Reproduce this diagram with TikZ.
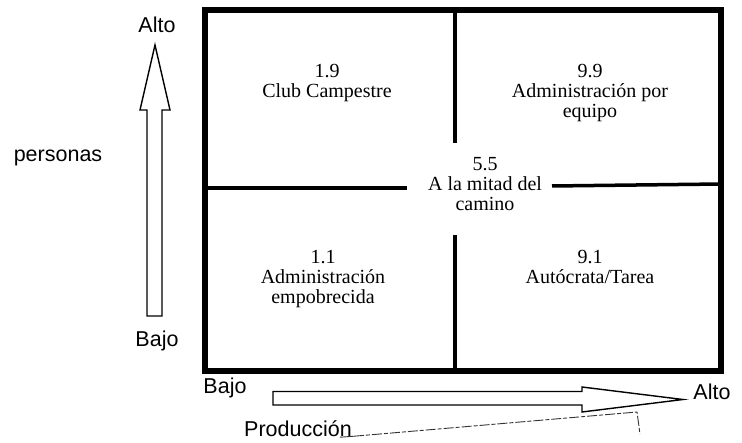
\documentclass[tikz,border=0pt]{standalone}
\usepackage{fontspec}
\setmainfont{Liberation Serif}
\newfontfamily\sansf{Liberation Sans}
\begin{document}
\begin{tikzpicture}[x=1pt,y=-1pt,
  frame/.style={line width=6pt,line join=miter},
  divider/.style={line width=3.5pt},
  quad/.style={align=center,inner sep=0pt,anchor=north,font=\fontsize{20}{20}\selectfont},
  axislabel/.style={inner sep=0pt,font=\sansf\fontsize{21.5}{23}\selectfont},
  hollow/.style={draw,line width=1.4pt,fill=white,line join=miter}]
\useasboundingbox (0,0) rectangle (742,443);
% frame
\draw[frame] (205,10) rectangle (721,371);
% dividers
\draw[divider] (455,10) -- (455,143);
\draw[divider] (455,235) -- (455,371);
\draw[divider] (205,188) -- (407,188);
\draw[divider] (552,186) -- (721,184);
% quadrant texts
\node[quad] (tl) at (327,64) {1.9\\Club Campestre};
\node[quad] (tr) at (590,64) {9.9\\Administración por\\equipo};
\node[quad] (mid) at (485,157) {5.5\\A la mitad del\\camino};
\node[quad] (bl) at (323,250) {1.1\\Administración\\empobrecida};
\node[quad] (br) at (590,250) {9.1\\Autócrata/Tarea};
% vertical arrow
\draw[hollow] (147,316) -- (147,110) -- (140,110) -- (155,45) -- (170,110) -- (162,110) -- (162,316) -- cycle;
% horizontal arrow
\draw[hollow] (273,391.5) -- (582,391.5) -- (582,387) -- (683,399.5) -- (582,412) -- (582,405) -- (273,405) -- cycle;
% axis labels
\node[axislabel] (alto1) at (157,25) {Alto};
\node[axislabel] (bajo1) at (157,341) {Bajo};
\node[axislabel] (pers) at (58,158) {personas};
\node[axislabel] (bajo2) at (225,388) {Bajo};
\node[axislabel] (alto2) at (712,392) {Alto};
\node[axislabel] (prod) at (298,429) {Producción};
% scan mark
\coordinate (m1) at (637,412);
\coordinate (m2) at (640,434);
\draw[line width=0.9pt,black!80] (prod.south east) ++(-12,0) -- ++(14,-1);
\draw[line width=0.9pt,black!80,dash pattern=on 10pt off 2pt on 4pt off 2pt] (prod.south east) ++(2,-1) -- (m1) -- (m2);
\end{tikzpicture}
\end{document}
